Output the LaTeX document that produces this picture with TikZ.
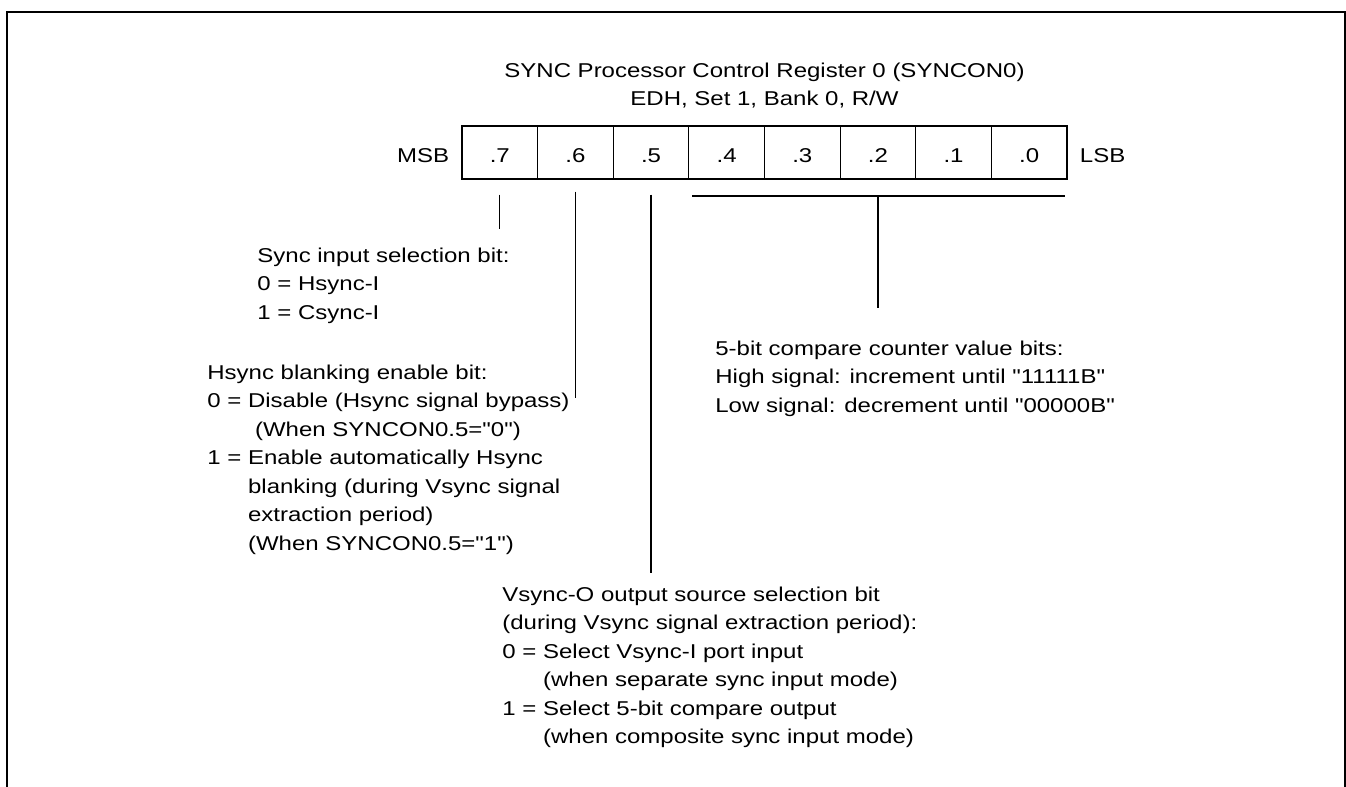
\documentclass[tikz,border=0pt]{standalone}
\usepackage{fontspec}
\setmainfont{Liberation Sans}[FakeStretch=1.2, Ligatures=TeXOff]
\usepackage{tikz}
\usetikzlibrary{positioning}
\newcommand{\regfont}{\fontsize{10}{14.25}\selectfont}
\tikzset{
  bitcell/.style={draw, line width=0.55pt, minimum width=37.81pt, minimum height=26.5pt, inner sep=0pt, text height=9.5pt, text depth=0pt, font=\regfont},
  endlabel/.style={inner sep=0pt, text height=9.5pt, text depth=0pt, font=\regfont},
  desc/.style={anchor=north west, align=left, inner sep=0pt, font=\regfont},
  lead/.style={line width=0.65pt},
  bracket/.style={line width=1pt},
}

\begin{document}
\begin{tikzpicture}[x=0.5pt, y=-0.5pt]
  \useasboundingbox (0,0) rectangle (1346,787);
  % open frame round the figure
  \draw[line width=1pt] (7,787) -- (7,12) -- (1344.5,12) -- (1344.5,787);

  % register cells, MSB on the left
  \foreach \b [count=\k from 0] in {7,6,...,0}
    \node[bitcell] (b\b) at ({462+75.625*(\k+0.5)},152.5) {.\b};
  \node[endlabel, left=6pt of b7] (msb) {MSB};
  \node[endlabel, right=6pt of b0] (lsb) {LSB};

  \node[align=center, anchor=north, inner sep=0pt, font=\regfont] (title) at (764.5,57)
    {\strut SYNC Processor Control Register 0 (SYNCON0)\\EDH, Set 1, Bank 0, R/W};

  % bit descriptions
  \node[desc] (sync) at (257,242)
    {\strut Sync input selection bit:\\0 = Hsync-I\\1 = Csync-I};
  \node[desc] (hblank) at (207,359)
    {\strut Hsync blanking enable bit:\\0 = Disable (Hsync signal bypass)\\
     \hphantom{0 = }\hspace{3.5pt}(When SYNCON0.5="0")\\1 = Enable automatically Hsync\\
     \hphantom{0 = }blanking (during Vsync signal\\\hphantom{0 = }extraction period)\\
     \hphantom{0 = }(When SYNCON0.5="1")};
  \node[desc] (fivebit) at (715,335)
    {\strut 5-bit compare counter value bits:\\High signal: increment until "11111B"\\
     Low signal: decrement until "00000B"};
  \node[desc] (vsync) at (502,581)
    {\strut Vsync-O output source selection bit\\(during Vsync signal extraction period):\\
     0 = Select Vsync-I port input\\\hphantom{0 = }(when separate sync input mode)\\
     1 = Select 5-bit compare output\\\hphantom{0 = }(when composite sync input mode)};

  % leads from the cells
  \coordinate (e6) at (b6 |- 0,398);
  \draw[lead, shorten <=7.5pt, shorten >=6.5pt] (b7.south) -- (b7 |- sync.north);
  \draw[lead, shorten <=6pt] (b6.south) -- (e6);
  \draw[lead, shorten <=7.5pt, shorten >=4pt] (b5.south) -- (b5 |- vsync.north);
  \draw[bracket] ([xshift=2pt,yshift=-8pt]b4.south west) -- ([xshift=-1.5pt,yshift=-8pt]b0.south east);
  \draw[lead, shorten <=8pt, shorten >=13.5pt] (b2.south) -- (b2 |- fivebit.north);
\end{tikzpicture}
\end{document}
